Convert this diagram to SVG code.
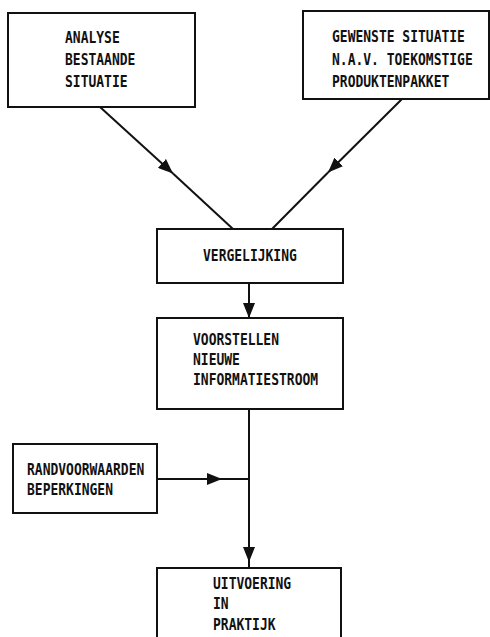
<svg xmlns="http://www.w3.org/2000/svg" width="490" height="637" viewBox="0 0 490 637">
<style>
.box{fill:#fff;stroke:#111;stroke-width:2}
.t{font-family:"DejaVu Sans Mono","Liberation Mono",monospace;font-weight:bold;font-size:13px;fill:#111}
.c{fill:none;stroke:#111;stroke-width:2}
</style>
<defs>
<marker id="ah" viewBox="0 0 15 12" refX="15" refY="6" markerWidth="15" markerHeight="12" markerUnits="userSpaceOnUse" orient="auto">
<path d="M0,0 L15,6 L0,12 Z" fill="#111"/>
</marker>
</defs>
<rect width="490" height="637" fill="#fff"/>
<g id="connectors">
<line class="c" x1="100" y1="107" x2="173" y2="173.5" marker-end="url(#ah)"/>
<line class="c" x1="173" y1="173.5" x2="233" y2="229"/>
<line class="c" x1="402" y1="99" x2="328" y2="172.5" marker-end="url(#ah)"/>
<line class="c" x1="328" y1="172.5" x2="272" y2="229"/>
<line class="c" x1="249" y1="283" x2="249" y2="318" marker-end="url(#ah)"/>
<line class="c" x1="249" y1="409" x2="249" y2="562" marker-end="url(#ah)"/>
<line class="c" x1="249" y1="560" x2="249" y2="568"/>
<line class="c" x1="157" y1="479" x2="222" y2="479" marker-end="url(#ah)"/>
<line class="c" x1="222" y1="479" x2="249" y2="479"/>
</g>
<g id="analyse">
<rect class="box" x="8" y="13" width="187" height="94"/>
<text class="t" transform="translate(65,43) scale(1,1.2)">ANALYSE</text>
<text class="t" transform="translate(65,65) scale(1,1.2)">BESTAANDE</text>
<text class="t" transform="translate(65,87) scale(1,1.2)">SITUATIE</text>
</g>
<g id="gewenste">
<rect class="box" x="303" y="11" width="186" height="88"/>
<text class="t" transform="translate(332,42) scale(1,1.2)">GEWENSTE SITUATIE</text>
<text class="t" transform="translate(332,65) scale(1,1.2)">N.A.V. TOEKOMSTIGE</text>
<text class="t" transform="translate(332,87) scale(1,1.2)">PRODUKTENPAKKET</text>
</g>
<g id="vergelijking">
<rect class="box" x="157" y="229" width="186" height="54"/>
<text class="t" transform="translate(203,261) scale(1,1.2)">VERGELIJKING</text>
</g>
<g id="voorstellen">
<rect class="box" x="157" y="318" width="186" height="91"/>
<text class="t" transform="translate(193,345) scale(1,1.2)">VOORSTELLEN</text>
<text class="t" transform="translate(193,365) scale(1,1.2)">NIEUWE</text>
<text class="t" transform="translate(193,385) scale(1,1.2)">INFORMATIESTROOM</text>
</g>
<g id="randvoorwaarden">
<rect class="box" x="13" y="444" width="144" height="69"/>
<text class="t" transform="translate(27,475) scale(1,1.2)">RANDVOORWAARDEN</text>
<text class="t" transform="translate(27,495) scale(1,1.2)">BEPERKINGEN</text>
</g>
<g id="uitvoering">
<path class="c" d="M157,640 V568 H341 V640"/>
<text class="t" transform="translate(213,589) scale(1,1.2)">UITVOERING</text>
<text class="t" transform="translate(213,609) scale(1,1.2)">IN</text>
<text class="t" transform="translate(213,630) scale(1,1.2)">PRAKTIJK</text>
</g>
</svg>
